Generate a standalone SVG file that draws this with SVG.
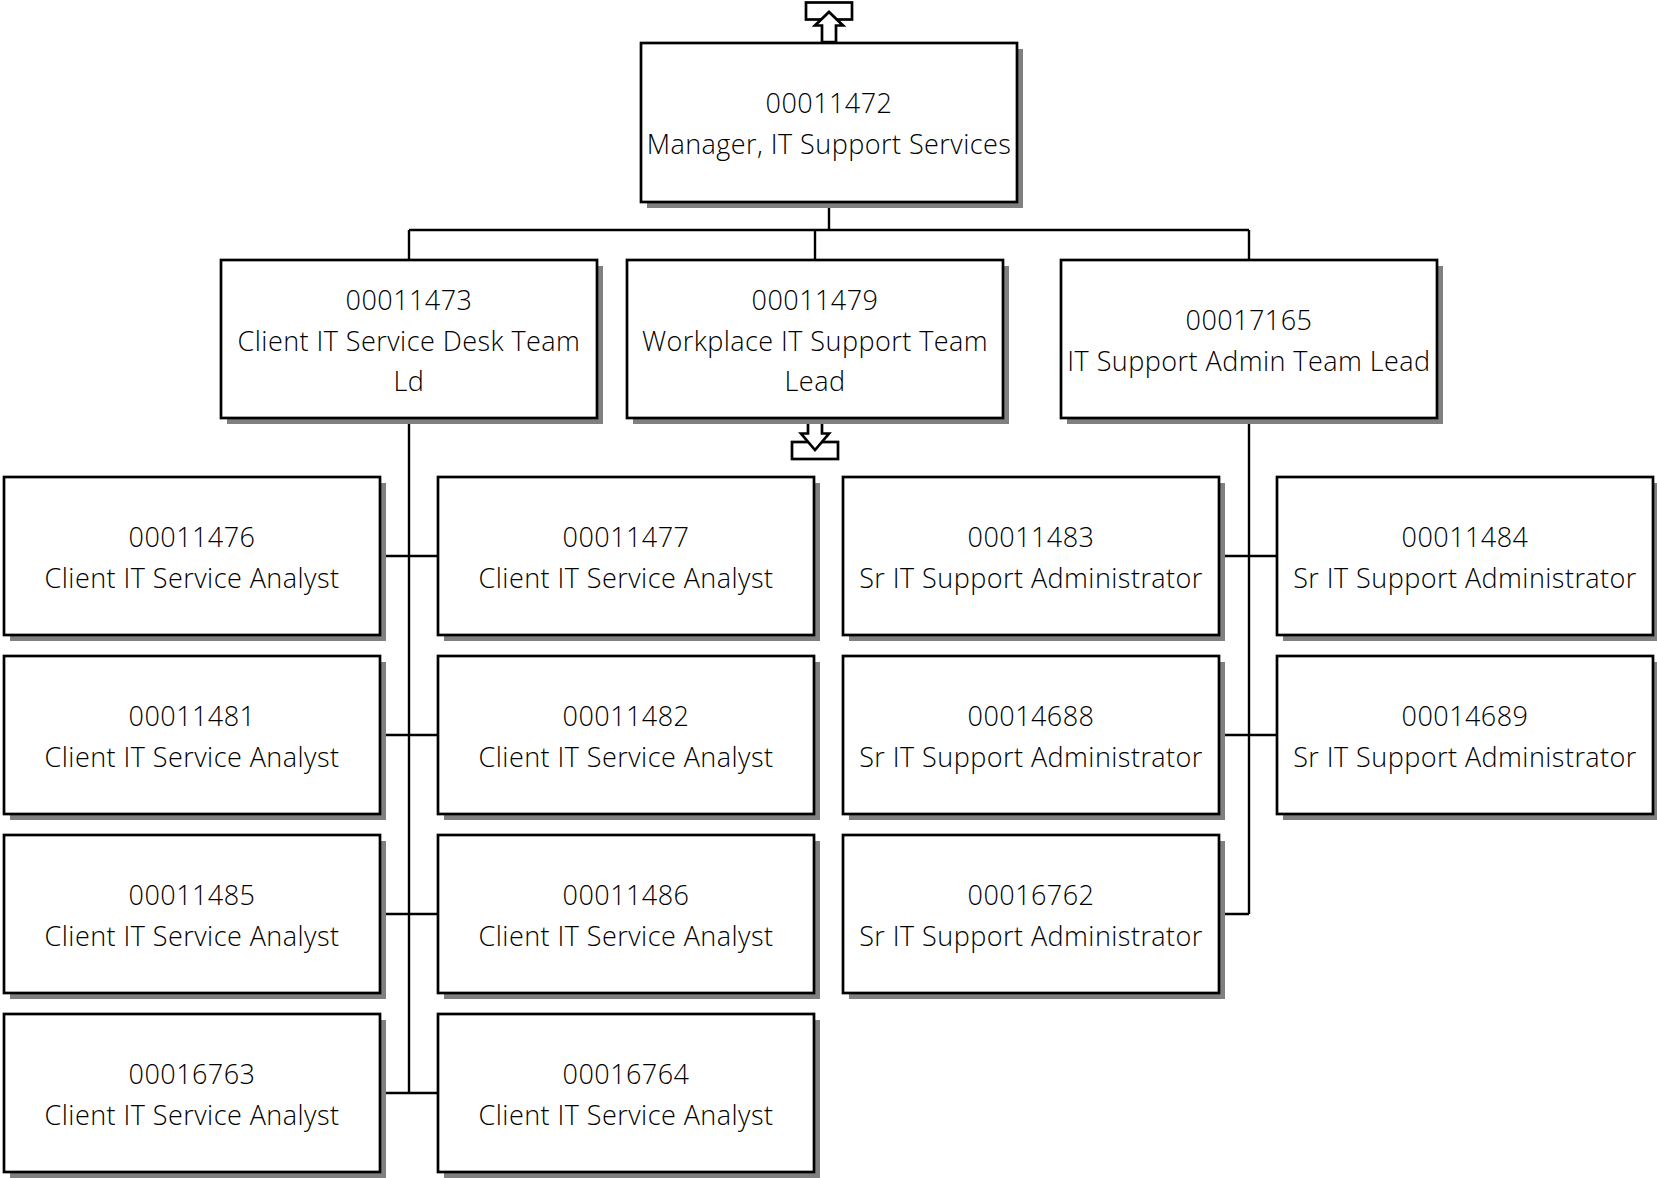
<svg xmlns="http://www.w3.org/2000/svg" width="1657" height="1178" viewBox="0 0 1657 1178">
<style>
.bg{fill:#ffffff}
.sh{fill:#808080}
.bx{fill:#ffffff;stroke:#000000;stroke-width:2.7}
.t{font-family:"Open Sans","Liberation Sans",sans-serif;font-size:27px;font-weight:300;letter-spacing:0.45px;fill:#000000;text-anchor:middle}
.ln{stroke:#000000;stroke-width:2.4;fill:none}
.ic{fill:#ffffff;stroke:#000000;stroke-width:2.7;stroke-linejoin:miter}
</style>
<rect class="bg" x="0" y="0" width="1657" height="1178"/>
<g id="connectors">
<path class="ln" d="M829 202V230M409 230H1249M409 230V260M815 230V260M1249 230V260"/>
<path class="ln" d="M409 418V1093M380 556H438M380 735H438M380 914H438M380 1093H438"/>
<path class="ln" d="M1249 418V914M1219 556H1277M1219 735H1277M1219 914H1249"/>
</g>
<g id="icon-up">
<rect class="ic" x="806" y="2.5" width="46" height="17"/>
<polygon class="ic" points="822,42 822,25.5 815,25.5 829,12 843,25.5 836,25.5 836,42"/>
</g>
<g id="icon-down">
<rect class="ic" x="792" y="442" width="46" height="17"/>
<polygon class="ic" points="808,419.5 808,433.5 801,433.5 815,450 829,433.5 822,433.5 822,419.5"/>
</g>
<g id="n00011472">
<rect class="sh" x="647" y="49" width="376" height="159"/>
<rect class="bx" x="641" y="43" width="376" height="159"/>
<text class="t" x="829" y="112.5">00011472</text>
<text class="t" x="829" y="153.5">Manager, IT Support Services</text>
</g>
<g id="n00011473">
<rect class="sh" x="227" y="266" width="376" height="158"/>
<rect class="bx" x="221" y="260" width="376" height="158"/>
<text class="t" x="409" y="309.5">00011473</text>
<text class="t" x="409" y="350.5">Client IT Service Desk Team</text>
<text class="t" x="409" y="390.5">Ld</text>
</g>
<g id="n00011479">
<rect class="sh" x="633" y="266" width="376" height="158"/>
<rect class="bx" x="627" y="260" width="376" height="158"/>
<text class="t" x="815" y="309.5">00011479</text>
<text class="t" x="815" y="350.5">Workplace IT Support Team</text>
<text class="t" x="815" y="390.5">Lead</text>
</g>
<g id="n00017165">
<rect class="sh" x="1067" y="266" width="376" height="158"/>
<rect class="bx" x="1061" y="260" width="376" height="158"/>
<text class="t" x="1249" y="329.5">00017165</text>
<text class="t" x="1249" y="370.5">IT Support Admin Team Lead</text>
</g>
<g id="n00011476">
<rect class="sh" x="10" y="483" width="376" height="158"/>
<rect class="bx" x="4" y="477" width="376" height="158"/>
<text class="t" x="192" y="546.5">00011476</text>
<text class="t" x="192" y="587.5">Client IT Service Analyst</text>
</g>
<g id="n00011477">
<rect class="sh" x="444" y="483" width="376" height="158"/>
<rect class="bx" x="438" y="477" width="376" height="158"/>
<text class="t" x="626" y="546.5">00011477</text>
<text class="t" x="626" y="587.5">Client IT Service Analyst</text>
</g>
<g id="n00011481">
<rect class="sh" x="10" y="662" width="376" height="158"/>
<rect class="bx" x="4" y="656" width="376" height="158"/>
<text class="t" x="192" y="725.5">00011481</text>
<text class="t" x="192" y="766.5">Client IT Service Analyst</text>
</g>
<g id="n00011482">
<rect class="sh" x="444" y="662" width="376" height="158"/>
<rect class="bx" x="438" y="656" width="376" height="158"/>
<text class="t" x="626" y="725.5">00011482</text>
<text class="t" x="626" y="766.5">Client IT Service Analyst</text>
</g>
<g id="n00011485">
<rect class="sh" x="10" y="841" width="376" height="158"/>
<rect class="bx" x="4" y="835" width="376" height="158"/>
<text class="t" x="192" y="904.5">00011485</text>
<text class="t" x="192" y="945.5">Client IT Service Analyst</text>
</g>
<g id="n00011486">
<rect class="sh" x="444" y="841" width="376" height="158"/>
<rect class="bx" x="438" y="835" width="376" height="158"/>
<text class="t" x="626" y="904.5">00011486</text>
<text class="t" x="626" y="945.5">Client IT Service Analyst</text>
</g>
<g id="n00016763">
<rect class="sh" x="10" y="1020" width="376" height="158"/>
<rect class="bx" x="4" y="1014" width="376" height="158"/>
<text class="t" x="192" y="1083.5">00016763</text>
<text class="t" x="192" y="1124.5">Client IT Service Analyst</text>
</g>
<g id="n00016764">
<rect class="sh" x="444" y="1020" width="376" height="158"/>
<rect class="bx" x="438" y="1014" width="376" height="158"/>
<text class="t" x="626" y="1083.5">00016764</text>
<text class="t" x="626" y="1124.5">Client IT Service Analyst</text>
</g>
<g id="n00011483">
<rect class="sh" x="849" y="483" width="376" height="158"/>
<rect class="bx" x="843" y="477" width="376" height="158"/>
<text class="t" x="1031" y="546.5">00011483</text>
<text class="t" x="1031" y="587.5">Sr IT Support Administrator</text>
</g>
<g id="n00011484">
<rect class="sh" x="1283" y="483" width="376" height="158"/>
<rect class="bx" x="1277" y="477" width="376" height="158"/>
<text class="t" x="1465" y="546.5">00011484</text>
<text class="t" x="1465" y="587.5">Sr IT Support Administrator</text>
</g>
<g id="n00014688">
<rect class="sh" x="849" y="662" width="376" height="158"/>
<rect class="bx" x="843" y="656" width="376" height="158"/>
<text class="t" x="1031" y="725.5">00014688</text>
<text class="t" x="1031" y="766.5">Sr IT Support Administrator</text>
</g>
<g id="n00014689">
<rect class="sh" x="1283" y="662" width="376" height="158"/>
<rect class="bx" x="1277" y="656" width="376" height="158"/>
<text class="t" x="1465" y="725.5">00014689</text>
<text class="t" x="1465" y="766.5">Sr IT Support Administrator</text>
</g>
<g id="n00016762">
<rect class="sh" x="849" y="841" width="376" height="158"/>
<rect class="bx" x="843" y="835" width="376" height="158"/>
<text class="t" x="1031" y="904.5">00016762</text>
<text class="t" x="1031" y="945.5">Sr IT Support Administrator</text>
</g>
</svg>
